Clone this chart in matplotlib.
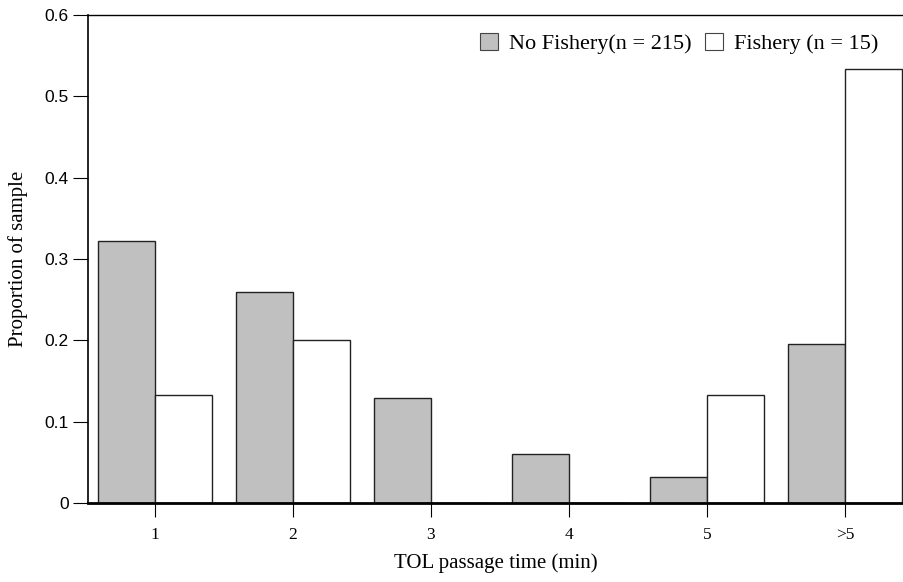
import matplotlib

matplotlib.use("Agg")
import matplotlib.pyplot as plt
import numpy as np
from matplotlib.patches import Patch

plt.rcParams["font.family"] = ["Liberation Serif", "DejaVu Serif"]

categories = ["1", "2", "3", "4", "5", ">5"]
no_fishery = [0.322, 0.259, 0.129, 0.060, 0.032, 0.195]
fishery = [0.133, 0.200, 0.0, 0.0, 0.133, 0.533]
labels = ["No Fishery(n = 215)", "Fishery (n = 15)"]

fig = plt.figure(figsize=(9.04, 5.82), dpi=100)
ax = fig.add_axes([88 / 904, 79 / 582, 816 / 904, 488 / 582])

x = np.arange(len(categories))
width = 0.413
ax.bar(x, no_fishery, width=-width, align="edge", color="#c0c0c0",
       edgecolor="#222222", linewidth=1.0)
ax.bar(x, fishery, width=width, align="edge", color="white",
       edgecolor="#222222", linewidth=1.0)

ax.set_xlim(-0.4855, 5.428)
ax.set_ylim(0, 0.6)
ax.set_yticks([0, 0.1, 0.2, 0.3, 0.4, 0.5, 0.6])
ax.set_yticklabels(["0", "0.1", "0.2", "0.3", "0.4", "0.5", "0.6"],
                   fontfamily="Liberation Sans", fontsize=12.5)
ax.set_xticks(x)
ax.set_xticklabels(categories, fontsize=12.5)
ax.tick_params(axis="y", direction="out", length=11, width=0.8, pad=3)
ax.tick_params(axis="x", direction="out", length=10, width=0.8, pad=7)

ax.spines["right"].set_visible(False)
ax.spines["left"].set_linewidth(1.2)
ax.spines["top"].set_linewidth(1.0)
ax.spines["bottom"].set_linewidth(2.0)

ax.set_xlabel("TOL passage time (min)", fontsize=15, labelpad=8)
ax.set_ylabel("Proportion of sample", fontsize=15, labelpad=12)

handles = [
    Patch(facecolor="#c0c0c0", edgecolor="#444444", linewidth=0.8),
    Patch(facecolor="white", edgecolor="#444444", linewidth=0.8),
]
ax.legend(handles, labels, ncol=2, frameon=False, fontsize=16,
          loc="upper right", bbox_to_anchor=(0.985, 0.99),
          handlelength=0.8, handleheight=0.8, handletextpad=0.5,
          columnspacing=0.6, borderaxespad=0.2)

fig.savefig("out.png", dpi=100)
